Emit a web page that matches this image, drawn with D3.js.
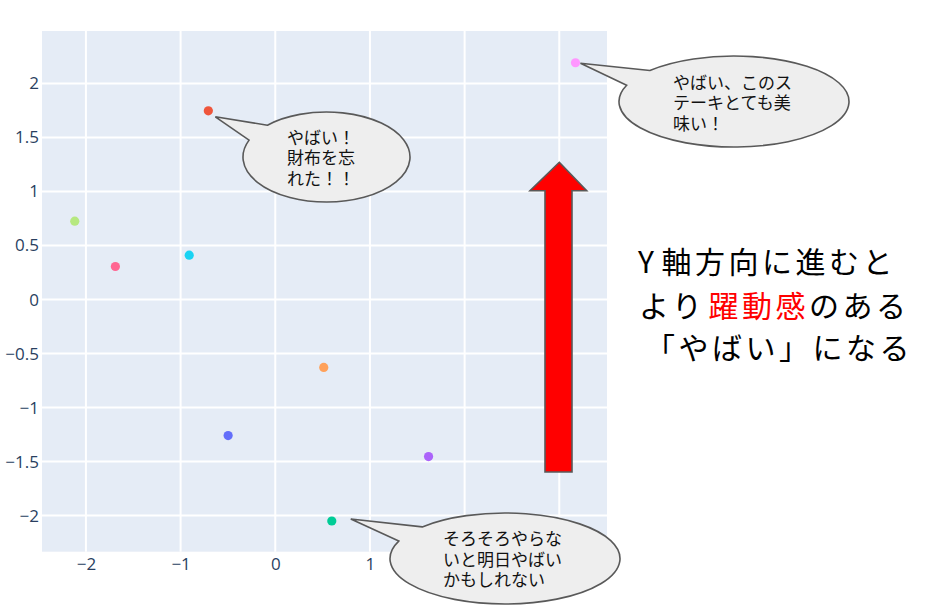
<!DOCTYPE html>
<html>
<head>
<meta charset="utf-8">
<script src="https://cdn.jsdelivr.net/npm/d3@7"></script>
<style>
  html, body { margin: 0; padding: 0; background: #ffffff; }
  svg { display: block; }
</style>
</head>
<body>
<svg id="chart" width="925" height="610"></svg>
<script>
// ---- data ----
const xValues = [-0.498, -0.707, 0.597, 1.619, 0.512, -0.909, -1.689, -2.118, 3.171];
const yValues = [-1.259, 1.747, -2.050, -1.453, -0.628, 0.411, 0.306, 0.726, 2.192];
const pointColors = ["#636EFA", "#EF553B", "#00CC96", "#AB63FA", "#FFA15A", "#19D3F3", "#FF6692", "#B6E880", "#FF97FF"];
const xGridTicks = [-2, -1, 0, 1, 2, 3];
const xTickLabels = [-2, -1, 0, 1];   // 2 and 3 are hidden under the callout in the reference
const yTicks = [-2, -1.5, -1, -0.5, 0, 0.5, 1, 1.5, 2];
const xDomain = [-2.464, 3.504];
const yDomain = [-2.334, 2.486];

const calloutPoint = [1, 8, 2];
const calloutLines = [
  ["やばい！", "財布を忘", "れた！！"],
  ["やばい、このス", "テーキとても美", "味い！"],
  ["そろそろやらな", "いと明日やばい", "かもしれない"]
];
const headlineLines = [
  [["Y", "#000000"], ["軸方向に進むと", "#000000"]],
  [["より", "#000000"], ["躍動感", "#ff0000"], ["のある", "#000000"]],
  [["「やばい」になる", "#000000"]]
];

// ---- layout ----
const svg = d3.select("#chart");
const plot = { left: 42, top: 31, right: 607, bottom: 551.7 };
const x = d3.scaleLinear().domain(xDomain).range([plot.left, plot.right]);
const y = d3.scaleLinear().domain(yDomain).range([plot.bottom, plot.top]);

svg.append("rect")
  .attr("x", plot.left).attr("y", plot.top)
  .attr("width", plot.right - plot.left).attr("height", plot.bottom - plot.top)
  .attr("fill", "#E5ECF6");

const grid = svg.append("g");
grid.selectAll("line.vx").data(xGridTicks).join("line")
  .attr("x1", d => x(d)).attr("x2", d => x(d))
  .attr("y1", plot.top).attr("y2", plot.bottom)
  .attr("stroke", "#ffffff").attr("stroke-width", 2);
grid.selectAll("line.hy").data(yTicks).join("line")
  .attr("y1", d => y(d)).attr("y2", d => y(d))
  .attr("x1", plot.left).attr("x2", plot.right)
  .attr("stroke", "#ffffff").attr("stroke-width", 2);

const fmt = d3.format("");
const yAxis = svg.append("g")
  .attr("transform", `translate(${plot.left},0)`)
  .call(d3.axisLeft(y).tickValues(yTicks).tickSize(0).tickPadding(3).tickFormat(fmt));
const xAxis = svg.append("g")
  .attr("transform", `translate(0,${plot.bottom})`)
  .call(d3.axisBottom(x).tickValues(xTickLabels).tickSize(0).tickPadding(6).tickFormat(fmt));
[yAxis, xAxis].forEach(g => {
  g.select(".domain").remove();
  g.selectAll("text")
    .attr("fill", "#2a3f5f")
    .style("font-family", "'Open Sans', 'Noto Sans', sans-serif")
    .style("font-size", "17px");
});

svg.append("g").selectAll("circle").data(xValues).join("circle")
  .attr("cx", (d) => x(d))
  .attr("cy", (d, i) => y(yValues[i]))
  .attr("r", 4.6)
  .attr("fill", (d, i) => pointColors[i]);

// ---- red arrow ----
const arrow = [[559.3, 162.3], [586.7, 190.7], [572, 190.7], [572, 472], [545, 472], [545, 190.7], [530, 190.7]];
svg.append("path")
  .attr("d", d3.line()(arrow) + "Z")
  .attr("fill", "#ff0000").attr("stroke", "#595959").attr("stroke-width", 1.6)
  .attr("stroke-linejoin", "miter");

// ---- callouts ----
const calloutGeom = [
  { cx: 326.5, cy: 157, rx: 83.5, ry: 45, a1: 225, a2: 202, tdx: 7, tdy: 6, tx: 287, ty: 143.5 },
  { cx: 734, cy: 101.5, rx: 115, ry: 45.5, a1: 223, a2: 201, tdx: 5, tdy: 0.5, tx: 673, ty: 88.5 },
  { cx: 505, cy: 558.5, rx: 115, ry: 45.5, a1: 224, a2: 202.5, tdx: 19, tdy: -2, tx: 443, ty: 545 }
];
calloutGeom.forEach((g, k) => {
  const pi = calloutPoint[k];
  const tip = [x(xValues[pi]) + g.tdx, y(yValues[pi]) + g.tdy];
  const P = a => [g.cx + g.rx * Math.cos(a * Math.PI / 180), g.cy + g.ry * Math.sin(a * Math.PI / 180)];
  const A = P(g.a1), B = P(g.a2);
  const d = `M${A[0]},${A[1]} L${tip[0]},${tip[1]} L${B[0]},${B[1]} A${g.rx},${g.ry} 0 1 0 ${A[0]},${A[1]} Z`;
  const grp = svg.append("g");
  grp.append("path").attr("d", d)
    .attr("fill", "#eeeeee").attr("stroke", "#595959").attr("stroke-width", 1.6)
    .attr("stroke-linejoin", "miter");
  const t = grp.append("text")
    .style("font-family", "'Noto Sans CJK JP', sans-serif")
    .style("font-size", "17px")
    .attr("fill", "#111111");
  calloutLines[k].forEach((line, j) => {
    t.append("tspan").attr("x", g.tx).attr("y", g.ty + j * 20.5).text(line);
  });
});

// ---- headline ----
const headX = [638, 639, 645];
const headY = [273, 317, 359];
const head = svg.append("text")
  .style("font-family", "'Noto Sans CJK JP', sans-serif")
  .style("font-size", "30px")
  .style("letter-spacing", "3.5px");
headlineLines.forEach((runs, j) => {
  runs.forEach((r, m) => {
    const ts = head.append("tspan").attr("fill", r[1]).text(r[0]);
    if (m === 0) ts.attr("x", headX[j]).attr("y", headY[j]);
    else if (j === 0 && m === 1) ts.attr("dx", 4);
    else if (j === 1 && m === 1) ts.attr("dx", 3);
  });
});
</script>
</body>
</html>
